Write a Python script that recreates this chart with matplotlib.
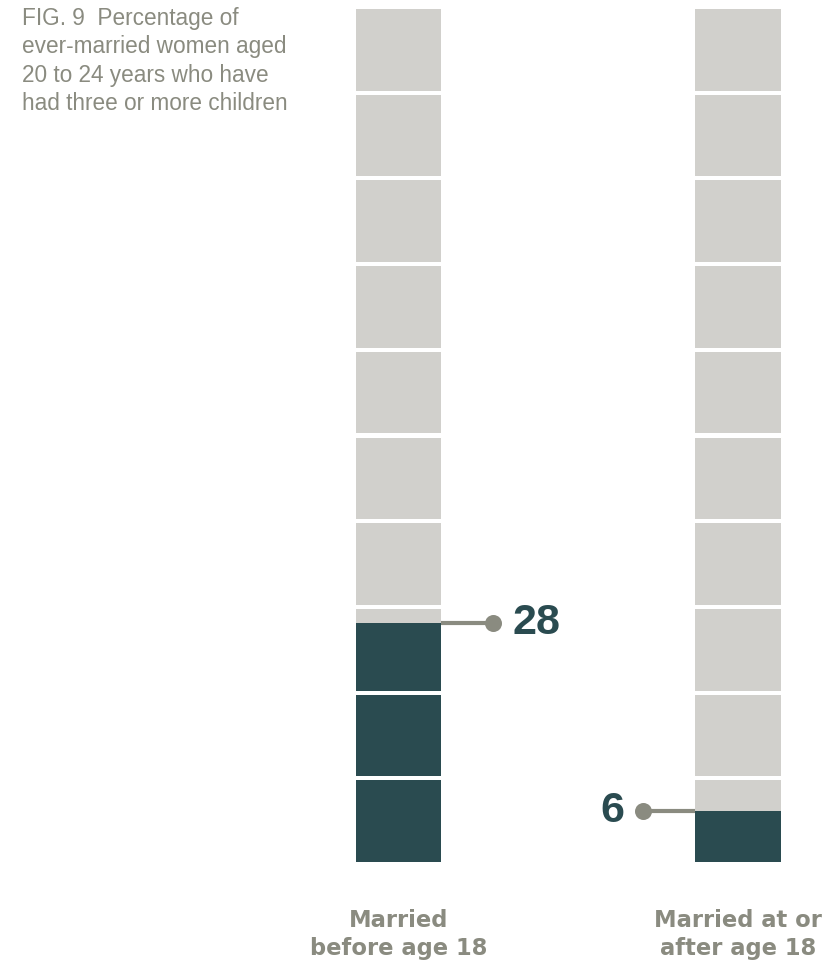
import matplotlib
matplotlib.use("Agg")
import matplotlib.pyplot as plt

# ---- data ----
categories = ["Married\nbefore age 18", "Married at or\nafter age 18"]
values = [28, 6]
value_labels = ["28", "6"]
title_text = "FIG. 9  Percentage of\never-married women aged\n20 to 24 years who have\nhad three or more children"
n_segments = 10

# ---- style ----
GREY = "#d1d0cc"
DARK = "#2a4b50"
LEADER = "#8a8b80"
TEXT_GREY = "#8a8b80"
FONT = ["Liberation Sans", "DejaVu Sans"]
CAT_FONT = ["DejaVu Sans"]

W, H, DPI = 825, 968, 100
fig = plt.figure(figsize=(W / DPI, H / DPI), dpi=DPI)

# axes: y 0..100 maps to pixel rows 862..9
bottom_px, top_px = 862, 9
ax = fig.add_axes([0, (H - bottom_px) / H, 1, (bottom_px - top_px) / H])
c0_px, c1_px = 398.5, 738.0
unit = c1_px - c0_px
ax.set_xlim(-c0_px / unit, (W - c0_px) / unit)
ax.set_ylim(0, 100)
ax.axis("off")

bar_w = 85.5 / unit
gap = 0.47
seg_h = (100 - (n_segments - 1) * gap) / n_segments

for i, v in enumerate(values):
    for s in range(n_segments):
        lo = s * (seg_h + gap)
        hi = lo + seg_h
        ax.bar(i, seg_h, bottom=lo, width=bar_w, color=GREY, linewidth=0)
        if v > lo:
            ax.bar(i, min(v, hi) - lo, bottom=lo, width=bar_w, color=DARK, linewidth=0)

# leaders and value labels
dot_off = 52 / unit
for i, (v, lab) in enumerate(zip(values, value_labels)):
    if i == 0:
        x_edge = i + bar_w / 2
        x_dot = x_edge + dot_off
        ax.plot([x_edge, x_dot], [v, v], color=LEADER, lw=3, solid_capstyle="butt", zorder=3)
        ax.scatter([x_dot], [v], s=150, color=LEADER, zorder=4, linewidths=0)
        ax.annotate(lab, (x_dot, v), xytext=(14, 0), textcoords="offset points",
                    ha="left", va="center", fontsize=31, fontweight="bold",
                    color=DARK, family=FONT)
    else:
        x_edge = i - bar_w / 2
        x_dot = x_edge - dot_off
        ax.plot([x_dot, x_edge], [v, v], color=LEADER, lw=3, solid_capstyle="butt", zorder=3)
        ax.scatter([x_dot], [v], s=150, color=LEADER, zorder=4, linewidths=0)
        ax.annotate(lab, (x_dot, v), xytext=(-14, 0), textcoords="offset points",
                    ha="right", va="center", fontsize=31, fontweight="bold",
                    color=DARK, family=FONT)

# category labels
for i, c in enumerate(categories):
    ax.annotate(c, (i, 0), xytext=(0, -34), textcoords="offset points",
                ha="center", va="top", fontsize=16.3, fontweight="bold",
                color=TEXT_GREY, family=CAT_FONT, linespacing=1.27)

# title
fig.text(22 / W, 1 - 7 / H, title_text, ha="left", va="top", fontsize=16.3,
         color=TEXT_GREY, family=FONT, linespacing=1.3)

fig.savefig("out.png", dpi=DPI)
